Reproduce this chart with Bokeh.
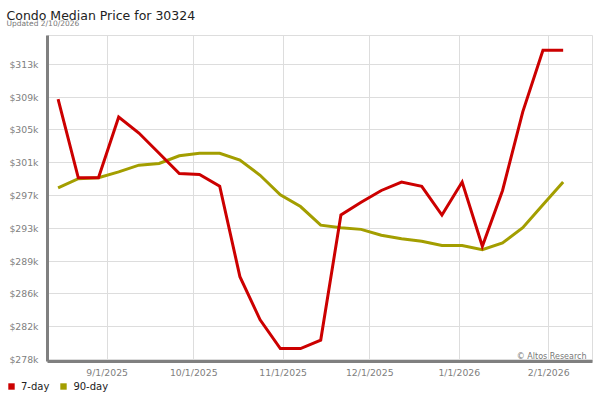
from datetime import datetime
import pandas as pd
from bokeh.plotting import figure
from bokeh.layouts import column, row
from bokeh.models import (Range1d, FixedTicker, Label, Legend, LegendItem)
from bokeh.embed import file_html
from bokeh.resources import INLINE

# ---- data ----
dates = ["2025-08-15", "2025-08-22", "2025-08-29", "2025-09-05", "2025-09-12",
         "2025-09-19", "2025-09-26", "2025-10-03", "2025-10-10", "2025-10-17",
         "2025-10-24", "2025-10-31", "2025-11-07", "2025-11-14", "2025-11-21",
         "2025-11-28", "2025-12-05", "2025-12-12", "2025-12-19", "2025-12-26",
         "2026-01-02", "2026-01-09", "2026-01-16", "2026-01-23", "2026-01-30",
         "2026-02-06"]
price_7day = [309100, 299800, 299800, 307000, 305100, 302700, 300300, 300200,
              298800, 288100, 283000, 279600, 279600, 280600, 295400, 296900,
              298300, 299300, 298800, 295400, 299300, 291700, 298300, 307600,
              314900, 314900]
price_90day = [298600, 299700, 299800, 300500, 301300, 301500, 302400, 302700,
               302700, 301900, 300100, 297800, 296400, 294200, 293900, 293700,
               293000, 292600, 292300, 291800, 291800, 291300, 292100, 293900,
               296600, 299300]
y_tick_values = [278300, 282180, 286060, 289940, 293820, 297700, 301580,
                 305460, 309340, 313220]
y_tick_labels = ["$278k", "$282k", "$286k", "$289k", "$293k", "$297k",
                 "$301k", "$305k", "$309k", "$313k"]
x_tick_dates = ["2025-09-01", "2025-10-01", "2025-11-01", "2025-12-01",
                "2026-01-01", "2026-02-01"]
x_tick_labels = ["9/1/2025", "10/1/2025", "11/1/2025", "12/1/2025",
                 "1/1/2026", "2/1/2026"]
series_names = ["7-day", "90-day"]

title_text = "Condo Median Price for 30324"
subtitle_text = "Updated 2/10/2026"
credit_text = "\u00a9 Altos Research"

RED = "#cc0000"
OLIVE = "#a39e00"
FONT = "DejaVu Sans"

x = pd.to_datetime(dates)
x_ticks_ms = [int(pd.Timestamp(d).value // 10**6) for d in x_tick_dates]


def strip(height):
    f = figure(width=600, height=height, output_backend="svg",
               toolbar_location=None, title=None,
               x_range=Range1d(0, 1), y_range=Range1d(0, 1),
               x_axis_location=None, y_axis_location=None,
               min_border=0, min_border_left=0, min_border_right=0,
               min_border_top=0, min_border_bottom=0)
    f.outline_line_color = None
    f.xgrid.visible = False
    f.ygrid.visible = False
    return f


# ---- title strip ----
ts = strip(35)
ts.add_layout(Label(x=6, y=20, x_units="screen", y_units="screen",
                    text=title_text, text_font=FONT, text_font_size="12.5px",
                    text_color="#222222", text_baseline="alphabetic"))
ts.add_layout(Label(x=6, y=12, x_units="screen", y_units="screen",
                    text=subtitle_text, text_font=FONT, text_font_size="7.5px",
                    text_color="#777777", text_baseline="alphabetic"))

# ---- main chart ----
p = figure(width=600, height=345, x_axis_type="datetime",
           output_backend="svg", toolbar_location=None, title=None,
           x_range=Range1d(datetime(2025, 8, 11, 8), datetime(2026, 2, 16, 4)),
           y_range=Range1d(278064, 316640),
           min_border_left=47, min_border_right=8,
           min_border_top=0, min_border_bottom=18)
p.background_fill_color = "white"
p.border_fill_color = "white"
p.outline_line_color = "#dddddd"
p.outline_line_width = 1

p.xaxis.ticker = FixedTicker(ticks=x_ticks_ms)
p.xaxis.major_label_overrides = {t: l for t, l in zip(x_ticks_ms, x_tick_labels)}
p.yaxis.ticker = FixedTicker(ticks=y_tick_values)
p.yaxis.major_label_overrides = {t: l for t, l in zip(y_tick_values, y_tick_labels)}
for ax in (p.xaxis[0], p.yaxis[0]):
    ax.axis_line_color = "#808080"
    ax.axis_line_width = 3
    ax.major_tick_line_color = None
    ax.minor_tick_line_color = None
    ax.major_tick_out = 0
    ax.major_tick_in = 0
    ax.major_label_text_font = FONT
    ax.major_label_text_font_size = "9.3px"
    ax.major_label_text_color = "#808080"
p.yaxis.major_label_standoff = 9
p.xaxis.major_label_standoff = 5

p.xgrid.grid_line_color = "#dddddd"
p.ygrid.grid_line_color = "#dddddd"

p.line(x, price_90day, line_width=3, line_color=OLIVE, line_join="miter")
p.line(x, price_7day, line_width=3, line_color=RED, line_join="miter")

p.add_layout(Label(x=539, y=5, x_units="screen", y_units="screen",
                   text=credit_text, text_font=FONT, text_font_size="8px",
                   text_color="#777777", text_align="right",
                   text_baseline="alphabetic"))

# ---- legend strip ----
lg = strip(20)
sw_r = lg.quad(left=[0], right=[1], top=[1], bottom=[0], fill_color=RED,
               line_color=None, visible=False)
sw_g = lg.quad(left=[0], right=[1], top=[1], bottom=[0], fill_color=OLIVE,
               line_color=None, visible=False)
legend = Legend(items=[LegendItem(label=series_names[0], renderers=[sw_r]),
                       LegendItem(label=series_names[1], renderers=[sw_g])],
                location=(7, 8), orientation="horizontal",
                glyph_width=8, glyph_height=8, label_height=12,
                label_standoff=6, spacing=10, padding=0, margin=0,
                border_line_color=None, background_fill_alpha=0,
                label_text_font=FONT, label_text_font_size="10px",
                label_text_color="#222222")
lg.add_layout(legend, "center")

layout = column(row(ts), p, row(lg), spacing=0)
open("out.html", "w").write(file_html(layout, INLINE))
